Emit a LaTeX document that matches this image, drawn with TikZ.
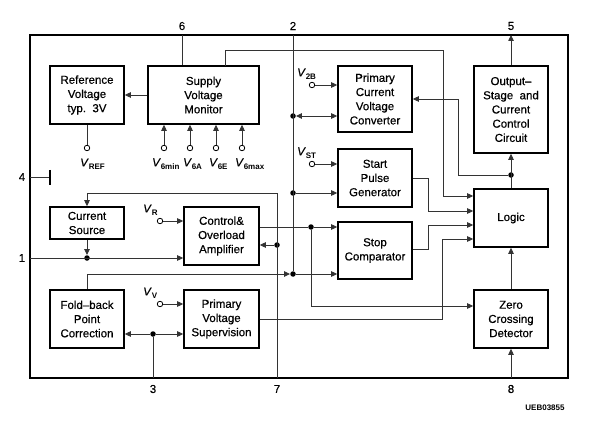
\documentclass[tikz,border=0pt]{standalone}
\usepackage{fontspec}
\setmainfont{Liberation Sans}[UprightFeatures={FakeBold=0.5},ItalicFeatures={FakeBold=0.5}]
\usetikzlibrary{arrows.meta}
\newcommand{\vsub}[1]{\textit{V}\raisebox{-0.5ex}{\footnotesize\bfseries #1}}

\begin{document}
\begin{tikzpicture}[
  x=1pt, y=-1pt,
  box/.style={draw, line width=1.6pt, align=center, inner sep=2pt,
              minimum width=74pt, minimum height=58pt,
              font=\fontsize{11.5}{14.2}\selectfont},
  wire/.style={line width=0.8pt, black!80},
  arr/.style={wire, -{Triangle[length=6pt,width=5.5pt]}},
  dot/.style={circle, fill, inner sep=0pt, minimum size=5.5pt},
  term/.style={circle, draw, line width=0.8pt, inner sep=0pt, minimum size=5.5pt},
  pinlab/.style={font=\fontsize{11.5}{13}\selectfont},
  vlab/.style={font=\fontsize{11.5}{13}\selectfont, inner sep=0pt}
]
\useasboundingbox (0,0) rectangle (591,422);
\draw[line width=1.6pt] (30,35) rectangle (568,378);

% blocks
\node[box] (ref) at (87,95) {Reference\\Voltage\\typ.\ \ 3V};
\node[box, minimum width=111pt] (svm) at (203.5,95) {Supply\\Voltage\\Monitor};
\node[box, minimum height=66pt] (pcvc) at (375,99) {Primary\\Current\\Voltage\\Converter};
\node[box, minimum height=87pt] (out) at (511,109.5) {Output--\\Stage\ \ and\\Current\\Control\\Circuit};
\node[box] (spg) at (375,178) {Start\\Pulse\\Generator};
\node[box] (logic) at (511,218) {Logic};
\node[box, minimum height=32pt] (cs) at (87,223) {Current\\Source};
\node[box, minimum width=75pt] (coa) at (221.5,236) {Control\&\\Overload\\Amplifier};
\node[box, minimum height=57pt] (stop) at (375,250.5) {Stop\\Comparator};
\node[box] (fold) at (87,319) {Fold--back\\Point\\Correction};
\node[box, minimum width=75pt] (pvs) at (221.5,319) {Primary\\Voltage\\Supervision};
\node[box] (zcd) at (511,319) {Zero\\Crossing\\Detector};

% pins
\coordinate (pin6) at (182,35);
\coordinate (pin2) at (293,35);
\coordinate (pin5) at (511,35);
\coordinate (pin4) at (30,177);
\coordinate (pin1) at (30,258);
\coordinate (pin3) at (153,378);
\coordinate (pin7) at (277,378);
\coordinate (pin8) at (511,378);
\node[pinlab] (lab6) at (182,26) {6};
\node[pinlab] (lab2) at (293,26) {2};
\node[pinlab] (lab5) at (511,26) {5};
\node[pinlab] (lab4) at (22,177) {4};
\node[pinlab] (lab1) at (22,258) {1};
\node[pinlab] (lab3) at (153,389) {3};
\node[pinlab] (lab7) at (277,389) {7};
\node[pinlab] (lab8) at (511,389) {8};
\node[font=\fontsize{8}{9}\selectfont\bfseries] (code) at (545,408) {UEB03855};

% junctions
\node[dot] (j2a) at (293,116) {};
\node[dot] (j2b) at (293,193) {};
\node[dot] (j2c) at (293,274) {};
\node[dot] (jc) at (311,227) {};
\node[dot] (j7) at (277,245) {};
\node[dot] (j1) at (87,258) {};
\node[dot] (j3) at (153,334) {};
\node[dot] (jo) at (511,175) {};

% terminals
\node[term] (vref) at (87,148) {};
\node[term] (v6min) at (164,148) {};
\node[term] (v6a) at (190,148) {};
\node[term] (v6e) at (216,148) {};
\node[term] (v6max) at (242,148) {};
\node[term] (v2b) at (312,85) {};
\node[term] (vst) at (312,164) {};
\node[term] (vr) at (160,221) {};
\node[term] (vv) at (160,304) {};
\node[vlab, anchor=west] (lref) at (80,164) {\vsub{REF}};
\node[vlab, anchor=west] (l6min) at (152,164) {\vsub{6min}};
\node[vlab, anchor=west] (l6a) at (183,164) {\vsub{6A}};
\node[vlab, anchor=west] (l6e) at (209,164) {\vsub{6E}};
\node[vlab, anchor=west] (l6max) at (235,164) {\vsub{6max}};
\node[vlab, anchor=west] (l2b) at (297,74) {\vsub{2B}};
\node[vlab, anchor=west] (lst) at (297,153) {\vsub{ST}};
\node[vlab, anchor=west] (lr) at (143,210) {\vsub{R}};
\node[vlab, anchor=west] (lv) at (143,293) {\vsub{V}};

% supply side
\draw[wire] (pin6) -- (pin6 |- svm.north);
\draw[arr] (svm.west) -- (ref.east);
\draw[wire] (ref.south) -- (vref);
\foreach \v in {v6min,v6a,v6e,v6max}
  \draw[arr] (\v) -- (\v |- svm.south);
\draw[arr] (225,66) -- (225,50) -| (443,196) -- (logic.west |- 0,196);

% pin 2
\draw[wire] (pin2) -- (j2c);
\draw[arr, {Triangle[length=6pt,width=5.5pt]}-{Triangle[length=6pt,width=5.5pt]}]
  (j2a) -- (j2a -| pcvc.west);
\draw[arr] (v2b) -- (v2b -| pcvc.west);
\draw[arr] (vst) -- (vst -| spg.west);
\draw[arr] (j2b) -- (j2b -| spg.west);
\draw[arr] (j2c) -- (j2c -| stop.west);
\draw[arr] (fold.north) |- (j2c);

% pin 7 and current source
\draw[arr] (pin7) -- (277,193) -| (cs.north);
\draw[arr] (j7) -- (j7 -| coa.east);
\draw[arr] (cs.south) -- (j1);
\draw[arr] (pin1) -- (pin1 -| coa.west);
\draw[arr] (vr) -- (vr -| coa.west);
\draw[wire] (pin4) -- (50,177);
\draw[line width=1.6pt] (50,170) -- (50,185);

% amplifier output
\draw[wire] (coa.east |- jc) -- (jc);
\draw[arr] (jc) -- (jc -| stop.west);
\draw[arr] (jc) |- (zcd.west |- 0,306);

% logic inputs
\draw[arr] (spg.east) -- (428,178) |- (logic.west |- 0,211);
\draw[arr] (stop.east |- 0,249) -- (428,249) |- (logic.west |- 0,225);
\draw[arr] (pvs.east) -| (442,239) -- (logic.west |- 0,239);

% output stage
\draw[arr] (logic.north) -- (out.south);
\draw[arr] (out.north) -- (pin5);
\draw[arr] (jo) -| (458,99) -- (pcvc.east);
\draw[arr] (zcd.north) -- (logic.south);
\draw[arr] (pin8) -- (zcd.south);

% pin 3
\draw[wire] (pin3) -- (j3);
\draw[arr] (j3) -- (j3 -| fold.east);
\draw[arr] (j3) -- (j3 -| pvs.west);
\draw[arr] (vv) -- (vv -| pvs.west);
\end{tikzpicture}
\end{document}
